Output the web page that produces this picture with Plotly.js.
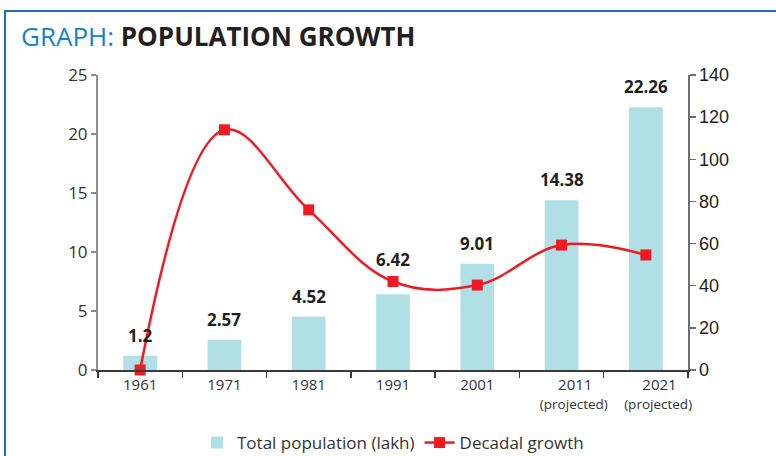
<!DOCTYPE html>
<html>
<head>
<meta charset="utf-8">
<script src="https://cdn.plot.ly/plotly-3.0.1.min.js"></script>
<style>
  html, body { margin: 0; padding: 0; background: #ffffff; }
  #wrap { position: relative; width: 776px; height: 456px; overflow: hidden; }
  #frame { position: absolute; left: 4px; top: 10px; width: 780px; height: 460px;
           border-left: 2px solid #1b6fc0; border-top: 2px solid #1b6fc0; box-sizing: border-box; }
  #chart { position: absolute; left: 0; top: 0; width: 776px; height: 456px; }
</style>
</head>
<body>
<div id="wrap">
  <div id="frame"></div>
  <div id="chart"></div>
</div>
<script>
const years = ['1961', '1971', '1981', '1991', '2001', '2011', '2021'];
const tickLabels = ['1961', '1971', '1981', '1991', '2001', '2011<br>(projected)', '2021<br>(projected)'];
const population = [1.2, 2.57, 4.52, 6.42, 9.01, 14.38, 22.26];
const decadalGrowth = [0, 114, 76, 42, 40.3, 59.3, 54.6];

const FONT = 'Open Sans, Noto Sans, sans-serif';

// the two-line (projected) labels sit slightly right of their bars in the original,
// and their second line is set a little smaller
const tickText = tickLabels.map(t => {
  if (t.indexOf('<br>') < 0) return t;
  const parts = t.split('<br>');
  return "<span style='font-size:15px'>" + '&nbsp;'.repeat(7) + parts[0] + '</span><br>' +
         "<span style='font-size:13.5px'>" + '&nbsp;'.repeat(7) + parts[1] + '</span>';
});

const barTrace = {
  type: 'bar',
  name: 'Total population (lakh)',
  x: years,
  y: population,
  width: 0.4,
  marker: { color: '#b0dfe5' },
  yaxis: 'y',
  hoverinfo: 'skip'
};

const lineTrace = {
  type: 'scatter',
  mode: 'lines+markers',
  name: 'Decadal growth',
  x: years,
  y: decadalGrowth,
  yaxis: 'y2',
  line: { color: '#ed1c24', width: 2.5, shape: 'spline', smoothing: 1.1 },
  marker: { symbol: 'square', size: 11, color: '#ed1c24' },
  cliponaxis: false,
  hoverinfo: 'skip'
};

// category axis: annotation x given as category index
const annotations = years.map((yr, i) => ({
  x: i,
  y: population[i],
  xref: 'x',
  yref: 'y',
  text: '<b>' + population[i] + '</b>',
  showarrow: false,
  yanchor: 'bottom',
  yshift: i === 3 ? 21 : 7,   // 1991 label lifted clear of the line
  font: { family: FONT, size: 17, color: '#231f20' }
}));

const layout = {
  width: 776,
  height: 456,
  margin: { l: 98, r: 88, t: 75, b: 86, autoexpand: false },
  paper_bgcolor: 'rgba(0,0,0,0)',
  plot_bgcolor: 'rgba(0,0,0,0)',
  font: { family: FONT, color: '#333333' },
  title: {
    text: "<span style='color:#1184c9'>GRAPH:</span> <b>POPULATION GROWTH</b>",
    font: { family: FONT, size: 26, color: '#231f20' },
    xref: 'container', yref: 'container',
    x: 21 / 776, xanchor: 'left',
    y: 1 - 37 / 456, yanchor: 'middle'
  },
  xaxis: {
    type: 'category',
    tickvals: years,
    ticktext: tickText,
    range: [-0.5, 6.5],
    tickangle: 0,
    automargin: false,
    showline: true,
    linecolor: '#3a3a3a',
    linewidth: 1.5,
    ticks: 'outside',
    tickson: 'boundaries',
    ticklen: 6,
    tickcolor: '#3a3a3a',
    tickwidth: 1.5,
    showgrid: false,
    zeroline: false,
    tickfont: { family: FONT, size: 15, color: '#333333' },
    fixedrange: true
  },
  yaxis: {
    range: [0, 25],
    dtick: 5,
    automargin: false,
    showline: true,
    linecolor: '#8c8c8c',
    linewidth: 2,
    ticks: 'outside',
    ticklen: 5,
    tickcolor: '#8c8c8c',
    tickwidth: 1.5,
    showgrid: false,
    zeroline: false,
    tickfont: { family: FONT, size: 17, color: '#333333' },
    fixedrange: true
  },
  yaxis2: {
    overlaying: 'y',
    side: 'right',
    range: [0, 140],
    dtick: 20,
    automargin: false,
    showline: true,
    linecolor: '#6e6e6e',
    linewidth: 1.5,
    ticks: 'outside',
    ticklen: 6,
    tickcolor: '#6e6e6e',
    tickwidth: 1.5,
    showgrid: false,
    zeroline: false,
    tickfont: { family: 'Liberation Sans, Arial, sans-serif', size: 18, color: '#231f20' },
    fixedrange: true
  },
  showlegend: true,
  legend: {
    orientation: 'h',
    xref: 'paper', yref: 'container',
    x: 0.5, xanchor: 'center',
    y: 1 - 443 / 456, yanchor: 'middle',
    font: { family: FONT, size: 17, color: '#333333' },
    traceorder: 'normal'
  },
  annotations: annotations
};

Plotly.newPlot('chart', [barTrace, lineTrace], layout, { displayModeBar: false, staticPlot: true });
</script>
</body>
</html>
